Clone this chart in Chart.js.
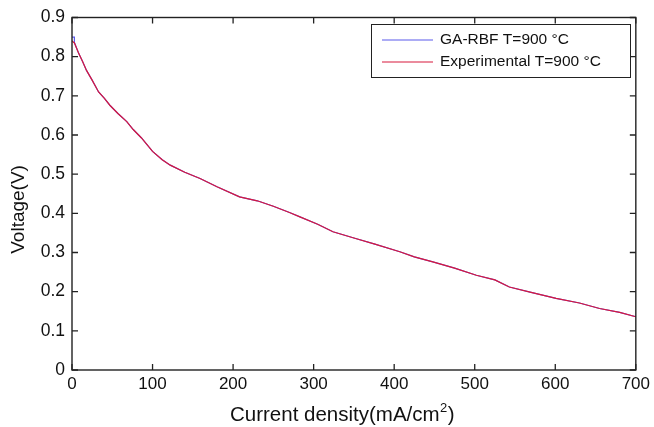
<!DOCTYPE html>
<html>
<head>
<meta charset="utf-8">
<script src="https://cdn.jsdelivr.net/npm/chart.js@4"></script>
<style>
html,body{margin:0;padding:0;background:#fff;}
#wrap{width:654px;height:427px;position:relative;}
</style>
</head>
<body>
<div id="wrap"><canvas id="c" width="654" height="427"></canvas></div>
<script>
const seriesLabels = ['GA-RBF T=900 \u00B0C', 'Experimental T=900 \u00B0C'];
const xTicks = [0, 100, 200, 300, 400, 500, 600, 700];
const yTicks = [0, 0.1, 0.2, 0.3, 0.4, 0.5, 0.6, 0.7, 0.8, 0.9];

const expCurrent = [0, 3, 8, 13, 18, 25, 33, 40, 47, 57, 68, 76, 86, 100, 112, 122, 140, 159, 180, 208, 230, 250, 270, 283, 305, 324, 350, 375, 407, 425, 448, 475, 502, 525, 543, 570, 601, 630, 655, 680, 700];
const expVoltage = [0.84, 0.835, 0.81, 0.788, 0.765, 0.74, 0.71, 0.694, 0.676, 0.655, 0.634, 0.614, 0.593, 0.558, 0.537, 0.523, 0.505, 0.489, 0.468, 0.442, 0.432, 0.418, 0.402, 0.391, 0.372, 0.353, 0.337, 0.322, 0.302, 0.289, 0.276, 0.26, 0.242, 0.23, 0.212, 0.198, 0.183, 0.171, 0.157, 0.147, 0.136];

const rbfCurrent = [0, 3, 3, 8, 13, 18, 25, 33, 40, 47, 57, 68, 76, 86, 100, 112, 122, 140, 159, 180, 208, 230, 250, 270, 283, 305, 324, 350, 375, 407, 425, 448, 475, 502, 525, 543, 570, 601, 630, 655, 680, 700];
const rbfVoltage = [0.85, 0.85, 0.836, 0.81, 0.788, 0.765, 0.74, 0.71, 0.694, 0.676, 0.655, 0.634, 0.614, 0.593, 0.558, 0.537, 0.523, 0.505, 0.489, 0.468, 0.442, 0.432, 0.418, 0.402, 0.391, 0.372, 0.353, 0.337, 0.322, 0.302, 0.289, 0.276, 0.26, 0.242, 0.23, 0.212, 0.198, 0.183, 0.171, 0.157, 0.147, 0.136];

const xTitleMain = 'Current density(mA/cm';
const xTitleSup = '2';
const xTitleEnd = ')';
const yTitle = 'Voltage(V)';

const FONT = '"Liberation Sans", Arial, sans-serif';
const toPts = (xs, ys) => xs.map((x, i) => ({x: x, y: ys[i]}));

const framePlugin = {
  id: 'frame',
  afterDraw(chart) {
    const ctx = chart.ctx, a = chart.chartArea;
    const xs = chart.scales.x, ys = chart.scales.y;
    ctx.save();
    ctx.strokeStyle = '#222';
    ctx.lineWidth = 1.4;
    ctx.strokeRect(a.left, a.top, a.right - a.left, a.bottom - a.top);
    ctx.lineWidth = 1.3;
    const L = 6;
    ctx.beginPath();
    xTicks.forEach(v => {
      const p = xs.getPixelForValue(v);
      ctx.moveTo(p, a.bottom); ctx.lineTo(p, a.bottom - L);
      ctx.moveTo(p, a.top); ctx.lineTo(p, a.top + L);
    });
    yTicks.forEach(v => {
      const p = ys.getPixelForValue(v);
      ctx.moveTo(a.left, p); ctx.lineTo(a.left + L, p);
      ctx.moveTo(a.right, p); ctx.lineTo(a.right - L, p);
    });
    ctx.stroke();

    // axis titles
    ctx.fillStyle = '#111';
    ctx.textBaseline = 'middle';
    const big = '20.5px ' + FONT, small = '13px ' + FONT;
    ctx.font = big;
    const w1 = ctx.measureText(xTitleMain).width;
    ctx.font = small;
    const w2 = ctx.measureText(xTitleSup).width;
    ctx.font = big;
    const w3 = ctx.measureText(xTitleEnd).width;
    const total = w1 + w2 + w3;
    const cx = xs.getPixelForValue(335);
    const sx = cx - total / 2;
    const ty = 415;
    ctx.textAlign = 'left';
    ctx.fillText(xTitleMain, sx, ty);
    ctx.font = small;
    ctx.fillText(xTitleSup, sx + w1 + 0.5, ty - 7);
    ctx.font = big;
    ctx.fillText(xTitleEnd, sx + w1 + w2 + 1, ty);

    ctx.save();
    ctx.font = '19px ' + FONT;
    ctx.translate(19, ys.getPixelForValue(0.41));
    ctx.rotate(-Math.PI / 2);
    ctx.textAlign = 'center';
    ctx.fillText(yTitle, 0, 0);
    ctx.restore();

    // legend box
    const bx = 371, by = 24, bw = 259, bh = 53;
    ctx.fillStyle = '#fff';
    ctx.fillRect(bx, by, bw, bh);
    ctx.strokeStyle = '#222';
    ctx.lineWidth = 1;
    ctx.strokeRect(bx + 0.5, by + 0.5, bw, bh);
    const rows = [40, 62];
    chart.data.datasets.forEach((ds, i) => {
      ctx.strokeStyle = ds.borderColor;
      ctx.lineWidth = 1.2;
      ctx.beginPath();
      ctx.moveTo(382, rows[i]); ctx.lineTo(433, rows[i]);
      ctx.stroke();
      ctx.fillStyle = '#111';
      ctx.font = '15.5px ' + FONT;
      ctx.textBaseline = 'middle';
      ctx.textAlign = 'left';
      ctx.fillText(ds.label, 440, rows[i]);
    });
    ctx.restore();
  }
};

new Chart(document.getElementById('c'), {
  type: 'line',
  data: {
    datasets: [
      {label: seriesLabels[0], data: toPts(rbfCurrent, rbfVoltage), borderColor: 'rgb(90,90,235)', borderWidth: 1.2, pointRadius: 0, tension: 0, order: 1},
      {label: seriesLabels[1], data: toPts(expCurrent, expVoltage), borderColor: 'rgb(215,25,60)', borderWidth: 1.2, pointRadius: 0, tension: 0, order: 0}
    ]
  },
  options: {
    responsive: false,
    animation: false,
    devicePixelRatio: 1,
    layout: {padding: {top: 17, right: 16, left: 0, bottom: 0}},
    plugins: {legend: {display: false}, tooltip: {enabled: false}},
    scales: {
      x: {
        type: 'linear', min: 0, max: 700,
        afterBuildTicks: s => { s.ticks = xTicks.map(v => ({value: v})); },
        afterFit: s => { s.height = 57; },
        grid: {display: false, drawTicks: false},
        border: {display: false},
        ticks: {color: '#111', font: {family: FONT, size: 17}, padding: 4, maxRotation: 0, autoSkip: false},
        title: {display: false}
      },
      y: {
        type: 'linear', min: 0, max: 0.9,
        afterBuildTicks: s => { s.ticks = yTicks.map(v => ({value: v})); },
        afterFit: s => { s.width = 72; },
        grid: {display: false, drawTicks: false},
        border: {display: false},
        ticks: {color: '#111', font: {family: FONT, size: 17.5}, padding: 7, autoSkip: false, callback: v => (v === 0 ? '0' : v.toFixed(1))},
        title: {display: false}
      }
    }
  },
  plugins: [framePlugin]
});
</script>
</body>
</html>
